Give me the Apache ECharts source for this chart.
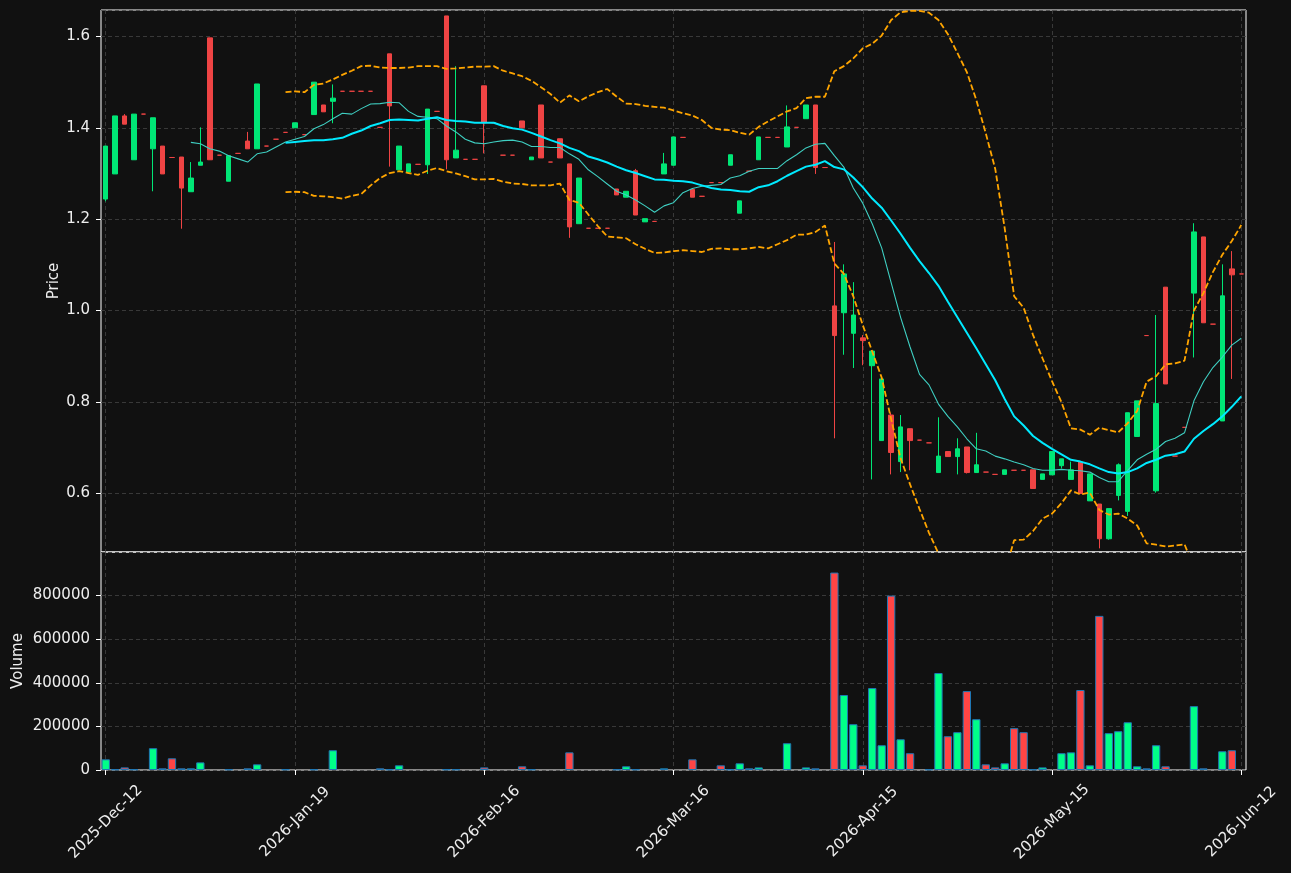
<!DOCTYPE html>
<html>
<head>
<meta charset="utf-8">
<script src="https://cdn.jsdelivr.net/npm/echarts@6/dist/echarts.min.js"></script>
<style>
  html, body { margin: 0; padding: 0; background: #111111; }
  #main { width: 1291px; height: 873px; }
</style>
</head>
<body>
<div id="main"></div>
<script>
// trading days shown on the chart
var dates = [
  '2025-12-12','2025-12-15','2025-12-16','2025-12-17','2025-12-18','2025-12-19','2025-12-22','2025-12-23','2025-12-29','2025-12-30',
  '2026-01-05','2026-01-06','2026-01-07','2026-01-08','2026-01-09','2026-01-12','2026-01-13','2026-01-14','2026-01-15','2026-01-16',
  '2026-01-19','2026-01-20','2026-01-21','2026-01-22','2026-01-23','2026-01-26','2026-01-27','2026-01-28','2026-01-29','2026-01-30',
  '2026-02-02','2026-02-03','2026-02-04','2026-02-05','2026-02-06','2026-02-09','2026-02-10','2026-02-11','2026-02-12','2026-02-13',
  '2026-02-16','2026-02-17','2026-02-18','2026-02-19','2026-02-20','2026-02-23','2026-02-24','2026-02-25','2026-02-26','2026-02-27',
  '2026-03-02','2026-03-03','2026-03-04','2026-03-05','2026-03-06','2026-03-09','2026-03-10','2026-03-11','2026-03-12','2026-03-13',
  '2026-03-16','2026-03-17','2026-03-18','2026-03-19','2026-03-20','2026-03-23','2026-03-24','2026-03-25','2026-03-26','2026-03-27',
  '2026-03-30','2026-03-31','2026-04-01','2026-04-02','2026-04-07','2026-04-08','2026-04-09','2026-04-10','2026-04-13','2026-04-14',
  '2026-04-15','2026-04-16','2026-04-17','2026-04-20','2026-04-21','2026-04-22','2026-04-23','2026-04-24','2026-04-27','2026-04-28',
  '2026-04-29','2026-04-30','2026-05-04','2026-05-05','2026-05-06','2026-05-07','2026-05-08','2026-05-11','2026-05-12','2026-05-13',
  '2026-05-15','2026-05-18','2026-05-19','2026-05-20','2026-05-21','2026-05-22','2026-05-25','2026-05-26','2026-05-27','2026-05-28',
  '2026-05-29','2026-06-01','2026-06-02','2026-06-03','2026-06-04','2026-06-05','2026-06-08','2026-06-09','2026-06-10','2026-06-11',
  '2026-06-12'
];

var opens = [
  1.244,1.299,1.426,1.330,1.430,1.354,1.360,1.335,1.336,1.260,
  1.318,1.597,1.340,1.283,1.344,1.371,1.354,1.360,1.375,1.390,
  1.400,1.385,1.429,1.450,1.458,1.480,1.480,1.480,1.480,1.401,
  1.562,1.308,1.303,1.320,1.319,1.436,1.645,1.334,1.331,1.331,
  1.492,1.411,1.340,1.340,1.415,1.330,1.450,1.325,1.376,1.321,
  1.190,1.180,1.180,1.180,1.266,1.248,1.306,1.194,1.195,1.299,
  1.318,1.379,1.265,1.250,1.280,1.280,1.318,1.213,1.305,1.330,
  1.379,1.379,1.358,1.401,1.420,1.450,1.313,1.010,0.995,0.950,
  0.940,0.879,0.715,0.771,0.669,0.741,0.716,0.710,0.645,0.691,
  0.680,0.701,0.645,0.646,0.641,0.641,0.650,0.650,0.651,0.630,
  0.640,0.660,0.630,0.668,0.583,0.576,0.500,0.595,0.560,0.724,
  0.945,0.605,1.051,0.681,0.744,1.038,1.161,0.970,0.758,1.091,
  1.080
];
var closes = [
  1.360,1.426,1.408,1.430,1.430,1.422,1.299,1.335,1.268,1.290,
  1.325,1.330,1.340,1.339,1.344,1.354,1.496,1.360,1.375,1.390,
  1.411,1.385,1.500,1.435,1.465,1.480,1.480,1.480,1.480,1.401,
  1.448,1.360,1.321,1.320,1.441,1.436,1.330,1.351,1.331,1.331,
  1.411,1.411,1.340,1.340,1.400,1.336,1.334,1.325,1.334,1.183,
  1.290,1.180,1.180,1.180,1.253,1.261,1.209,1.201,1.195,1.321,
  1.380,1.379,1.248,1.250,1.280,1.280,1.341,1.240,1.305,1.380,
  1.379,1.379,1.402,1.401,1.450,1.313,1.313,0.945,1.080,0.990,
  0.934,0.911,0.850,0.689,0.745,0.715,0.716,0.710,0.681,0.680,
  0.697,0.645,0.662,0.646,0.641,0.651,0.650,0.650,0.610,0.642,
  0.691,0.675,0.651,0.599,0.642,0.500,0.566,0.662,0.776,0.802,
  0.945,0.796,0.839,0.681,0.744,1.172,0.973,0.970,1.032,1.078,
  1.080
];
var lows = [
  1.239,1.299,1.408,1.330,1.430,1.261,1.299,1.335,1.179,1.260,
  1.318,1.330,1.340,1.283,1.344,1.354,1.354,1.360,1.375,1.390,
  1.400,1.385,1.429,1.435,1.410,1.480,1.480,1.480,1.480,1.401,
  1.315,1.308,1.303,1.320,1.299,1.436,1.309,1.334,1.331,1.331,
  1.344,1.411,1.340,1.340,1.400,1.330,1.334,1.325,1.334,1.159,
  1.190,1.180,1.180,1.180,1.253,1.248,1.209,1.194,1.195,1.299,
  1.318,1.379,1.248,1.250,1.280,1.280,1.318,1.213,1.305,1.330,
  1.379,1.379,1.358,1.401,1.420,1.299,1.313,0.720,0.903,0.874,
  0.880,0.630,0.715,0.641,0.646,0.650,0.716,0.710,0.645,0.680,
  0.641,0.643,0.645,0.646,0.641,0.641,0.650,0.650,0.610,0.630,
  0.640,0.654,0.630,0.599,0.583,0.479,0.498,0.584,0.550,0.724,
  0.945,0.601,0.839,0.681,0.744,0.897,0.973,0.970,0.758,0.850,
  1.080
];
var highs = [
  1.360,1.426,1.430,1.430,1.430,1.422,1.360,1.335,1.336,1.325,
  1.401,1.597,1.340,1.339,1.344,1.391,1.496,1.360,1.375,1.390,
  1.411,1.385,1.500,1.450,1.495,1.480,1.480,1.480,1.480,1.401,
  1.562,1.360,1.321,1.320,1.441,1.436,1.645,1.535,1.331,1.331,
  1.492,1.411,1.340,1.340,1.415,1.336,1.450,1.325,1.376,1.321,
  1.290,1.180,1.180,1.180,1.266,1.261,1.310,1.201,1.195,1.345,
  1.380,1.379,1.265,1.250,1.280,1.280,1.341,1.240,1.305,1.380,
  1.379,1.379,1.449,1.401,1.450,1.450,1.313,1.150,1.101,1.062,
  0.946,0.911,0.856,0.776,0.771,0.741,0.716,0.710,0.766,0.691,
  0.720,0.701,0.732,0.646,0.641,0.651,0.650,0.650,0.651,0.642,
  0.691,0.675,0.669,0.668,0.642,0.576,0.566,0.665,0.776,0.802,
  0.945,0.990,1.051,0.681,0.744,1.191,1.161,0.970,1.101,1.130,
  1.080
];
var volumes = [
  49000,3000,12000,3000,0,100000,7700,53700,7700,7700,
  35000,0,0,3000,0,7700,26000,0,0,3000,
  0,0,3000,0,90600,0,0,0,0,7700,
  3000,21500,0,0,0,0,3000,3000,0,0,
  12000,0,0,0,17000,3000,0,0,0,81000,
  0,0,0,0,3000,17000,3000,0,0,7700,
  0,0,49000,0,0,21500,3000,30700,7700,12000,
  0,0,122800,0,12000,7700,0,905700,344000,210000,
  21500,376000,113600,800000,141000,77000,0,3000,445000,155000,
  173500,362000,233000,26000,12000,30700,192000,173500,3000,12000,
  0,77000,81000,367000,21500,707000,169000,178000,219000,17000,
  7700,113600,17000,0,0,293000,7700,0,86000,90600,
  0
];

// 10-day average, first value at index 9
var ma10Start = 9;
var ma10 = [
  1.368,1.365,1.354,1.349,1.339,1.332,1.325,1.343,1.347,1.358,
  1.369,1.375,1.381,1.398,1.407,1.420,1.432,1.430,1.442,1.452,
  1.453,1.456,1.455,1.436,1.425,1.423,1.420,1.404,1.391,1.375,
  1.367,1.365,1.369,1.372,1.373,1.369,1.359,1.359,1.357,1.357,
  1.343,1.331,1.308,1.293,1.277,1.261,1.253,1.242,1.229,1.215,
  1.229,1.236,1.258,1.267,1.272,1.274,1.276,1.290,1.295,1.305,
  1.311,1.311,1.311,1.328,1.341,1.356,1.364,1.366,1.339,1.314,
  1.268,1.235,1.190,1.137,1.061,0.985,0.920,0.860,0.837,0.795,
  0.768,0.745,0.719,0.697,0.692,0.681,0.675,0.668,0.662,0.654,
  0.650,0.650,0.652,0.650,0.649,0.646,0.634,0.625,0.625,0.650,
  0.673,0.685,0.696,0.713,0.720,0.732,0.802,0.844,0.875,0.898,
  0.924,0.939
];

// 20-day average and bands, first value at index 19
var ma20Start = 19;
var ma20 = [
  1.367,1.369,1.371,1.373,1.373,1.375,1.378,1.387,1.394,1.404,
  1.410,1.417,1.418,1.417,1.416,1.420,1.423,1.417,1.415,1.414,
  1.411,1.411,1.411,1.404,1.399,1.396,1.389,1.381,1.373,1.366,
  1.356,1.349,1.337,1.331,1.324,1.315,1.307,1.301,1.294,1.287,
  1.286,1.284,1.283,1.280,1.274,1.268,1.265,1.264,1.261,1.260,
  1.270,1.274,1.283,1.295,1.305,1.315,1.319,1.327,1.314,1.309,
  1.291,1.270,1.245,1.225,1.197,1.168,1.137,1.108,1.082,1.054,
  1.019,0.985,0.951,0.917,0.882,0.847,0.806,0.768,0.748,0.725,
  0.710,0.697,0.685,0.673,0.669,0.663,0.654,0.646,0.643,0.646,
  0.654,0.666,0.673,0.682,0.685,0.691,0.719,0.736,0.751,0.768,
  0.789,0.812
];
var bandUpper = [
  1.478,1.480,1.478,1.494,1.497,1.506,1.516,1.525,1.535,1.536,
  1.532,1.531,1.531,1.532,1.535,1.535,1.535,1.529,1.530,1.532,
  1.534,1.534,1.535,1.525,1.519,1.513,1.503,1.489,1.474,1.455,
  1.471,1.458,1.469,1.478,1.485,1.468,1.453,1.452,1.448,1.446,
  1.444,1.438,1.432,1.427,1.417,1.400,1.396,1.395,1.389,1.385,
  1.402,1.414,1.425,1.436,1.443,1.465,1.468,1.468,1.524,1.535,
  1.552,1.574,1.584,1.602,1.636,1.653,1.656,1.656,1.652,1.636,
  1.605,1.564,1.522,1.461,1.388,1.310,1.180,1.031,1.006,0.946,
  0.895,0.845,0.799,0.742,0.739,0.728,0.743,0.738,0.733,0.753,
  0.780,0.844,0.856,0.882,0.884,0.890,1.000,1.038,1.084,1.122,
  1.152,1.187
];
var bandLower = [
  1.259,1.260,1.259,1.251,1.250,1.248,1.245,1.251,1.255,1.274,
  1.290,1.301,1.305,1.301,1.297,1.306,1.312,1.305,1.300,1.294,
  1.287,1.287,1.288,1.282,1.278,1.277,1.274,1.274,1.274,1.278,
  1.242,1.236,1.210,1.185,1.162,1.160,1.158,1.145,1.135,1.126,
  1.127,1.130,1.132,1.130,1.128,1.135,1.136,1.134,1.134,1.136,
  1.139,1.136,1.145,1.154,1.166,1.166,1.172,1.186,1.103,1.080,
  1.031,0.968,0.910,0.853,0.762,0.676,0.619,0.565,0.513,0.468,
  0.433,0.407,0.380,0.373,0.376,0.389,0.425,0.497,0.498,0.517,
  0.544,0.555,0.578,0.606,0.597,0.601,0.563,0.553,0.555,0.544,
  0.529,0.490,0.487,0.483,0.485,0.488,0.437,0.433,0.418,0.414,
  0.426,0.436
];

var UP = '#00e676', DOWN = '#ef4444';
var VOL_UP = '#00ff88', VOL_DOWN = '#ff4545';
var FONT = 'DejaVu Sans';
var FS = 15;
var MONTHS = ['Jan','Feb','Mar','Apr','May','Jun','Jul','Aug','Sep','Oct','Nov','Dec'];

function fmtDate(s) {
  var p = s.split('-');
  return p[0] + '-' + MONTHS[+p[1] - 1] + '-' + p[2];
}
function pad(start, arr) {
  var out = [];
  for (var i = 0; i < start; i++) out.push(null);
  return out.concat(arr);
}

var candleData = dates.map(function (d, i) {
  var c = closes[i] > opens[i] ? UP : DOWN;
  return {
    value: [opens[i], closes[i], lows[i], highs[i]],
    itemStyle: { color: c, color0: c, borderColor: c, borderColor0: c }
  };
});
var volData = volumes.map(function (v, i) {
  return {
    value: v,
    itemStyle: { color: closes[i] > opens[i] ? VOL_UP : VOL_DOWN, borderWidth: v > 0 ? 1 : 0 }
  };
});

var gridLine = { show: true, lineStyle: { color: '#444444', type: [4, 3], width: 0.8 } };
var vGridLine = { show: true, interval: 19, alignWithLabel: true, lineStyle: { color: '#444444', type: [4, 3], width: 0.8 } };
var labelStyle = { color: '#eeeeee', fontSize: FS, fontFamily: FONT };
var bandStyle = { color: '#ffa500', width: 1.8, type: [6, 2.6] };

var myChart = echarts.init(document.getElementById('main'));
var option = {
  backgroundColor: '#111111',
  animation: false,
  textStyle: { fontFamily: FONT },
  grid: [
    { left: 101, right: 45, top: 10, height: 542, show: true, borderColor: '#ffffff', borderWidth: 1 },
    { left: 101, right: 45, top: 552, height: 218, show: true, borderColor: '#ffffff', borderWidth: 1 }
  ],
  xAxis: [
    {
      type: 'category', gridIndex: 0, data: dates, boundaryGap: true,
      axisLine: { show: false }, axisTick: { show: false }, axisLabel: { show: false },
      splitLine: vGridLine
    },
    {
      type: 'category', gridIndex: 1, data: dates, boundaryGap: true,
      axisLine: { show: false },
      axisTick: { show: true, interval: 19, alignWithLabel: true, length: 5, lineStyle: { color: '#ffffff' } },
      axisLabel: {
        interval: 19, rotate: 45, align: 'center', verticalAlign: 'middle', margin: 52,
        color: '#eeeeee', fontSize: FS, fontFamily: FONT, formatter: fmtDate
      },
      splitLine: vGridLine
    }
  ],
  yAxis: [
    {
      type: 'value', gridIndex: 0, min: 0.471, max: 1.658, splitNumber: 6,
      name: 'Price', nameLocation: 'middle', nameGap: 39, nameMoveOverlap: false, nameTextStyle: labelStyle,
      axisLine: { show: false },
      axisTick: { show: true, length: 5, lineStyle: { color: '#ffffff' } },
      axisLabel: {
        color: '#eeeeee', fontSize: FS, fontFamily: FONT, margin: 11,
        showMinLabel: false, showMaxLabel: false,
        formatter: function (v) { return v.toFixed(1); }
      },
      splitLine: gridLine
    },
    {
      type: 'value', gridIndex: 1, min: 0, max: 1000000, interval: 200000,
      name: 'Volume', nameLocation: 'middle', nameGap: 75, nameMoveOverlap: false, nameTextStyle: labelStyle,
      axisLine: { show: false },
      axisTick: { show: true, length: 5, lineStyle: { color: '#ffffff' } },
      axisLabel: {
        color: '#eeeeee', fontSize: FS, fontFamily: FONT, margin: 11,
        showMaxLabel: false,
        formatter: function (v) { return String(v); }
      },
      splitLine: gridLine
    }
  ],
  series: [
    {
      type: 'candlestick', xAxisIndex: 0, yAxisIndex: 0, data: candleData, barWidth: 5,
      itemStyle: { color: UP, color0: DOWN, borderColor: UP, borderColor0: DOWN, borderWidth: 1 }
    },
    {
      type: 'line', xAxisIndex: 0, yAxisIndex: 0, data: pad(ma10Start, ma10),
      symbol: 'none', lineStyle: { color: '#3fcfc2', width: 1.1 }
    },
    {
      type: 'line', xAxisIndex: 0, yAxisIndex: 0, data: pad(ma20Start, ma20),
      symbol: 'none', lineStyle: { color: '#00eaff', width: 2 }
    },
    {
      type: 'line', xAxisIndex: 0, yAxisIndex: 0, data: pad(ma20Start, bandUpper),
      symbol: 'none', lineStyle: bandStyle
    },
    {
      type: 'line', xAxisIndex: 0, yAxisIndex: 0, data: pad(ma20Start, bandLower),
      symbol: 'none', lineStyle: bandStyle
    },
    {
      type: 'bar', xAxisIndex: 1, yAxisIndex: 1, data: volData, barWidth: '88%',
      itemStyle: { borderColor: '#1f77b4', borderWidth: 1 }
    }
  ]
};

myChart.setOption(option);
</script>
</body>
</html>
